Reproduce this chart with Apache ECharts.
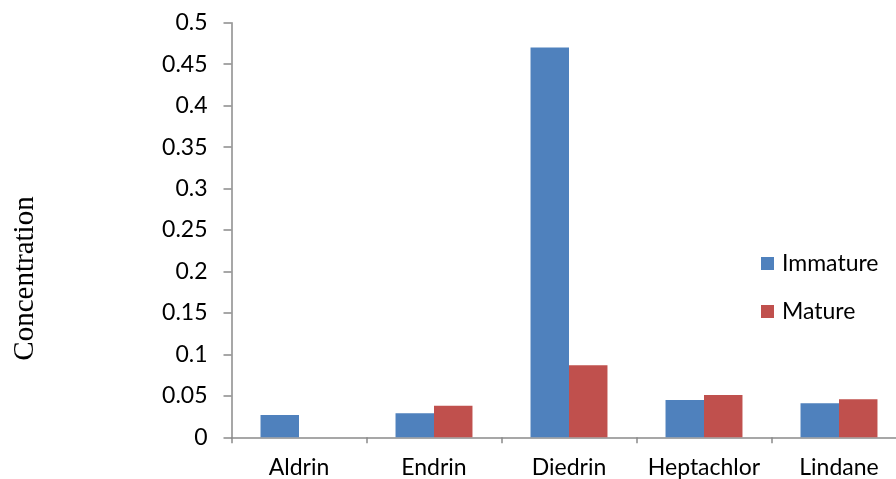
<!DOCTYPE html>
<html>
<head>
<meta charset="utf-8">
<script src="https://cdn.jsdelivr.net/npm/echarts@6/dist/echarts.min.js"></script>
<style>
  html, body { margin: 0; padding: 0; background: #ffffff; }
  #chart { width: 896px; height: 479px; }
</style>
</head>
<body>
<div id="chart"></div>
<script>
// Pesticide residue concentrations by compound and maturity stage
const categories = ['Aldrin', 'Endrin', 'Diedrin', 'Heptachlor', 'Lindane'];
const immature = [0.027, 0.029, 0.47, 0.045, 0.041];
const mature = [0, 0.038, 0.087, 0.051, 0.046];
const seriesNames = ['Immature', 'Mature'];
const yMin = 0;
const yMax = 0.5;
const yStep = 0.05;

const axisGray = '#8a8a8a';
const labelFont = 'Lato, "Open Sans", sans-serif';

const chart = echarts.init(document.getElementById('chart'), null, { renderer: 'canvas' });

chart.setOption({
  animation: false,
  backgroundColor: '#ffffff',
  // plot area runs past the right edge of the canvas
  grid: {
    left: 231.5, top: 22.7, width: 675, height: 414.6,
    containLabel: false, outerBoundsMode: 'none'
  },
  legend: {
    orient: 'vertical',
    left: 761,
    top: 252,
    padding: 0,
    itemWidth: 13,
    itemHeight: 13,
    itemGap: 25,
    icon: 'rect',
    textStyle: { fontFamily: labelFont, fontSize: 23, color: '#000', lineHeight: 20, padding: [0, 0, 0, 3] },
    data: seriesNames
  },
  xAxis: {
    type: 'category',
    data: categories,
    axisLine: { lineStyle: { color: axisGray, width: 1.5 } },
    axisTick: { show: true, length: 6, alignWithLabel: false, lineStyle: { color: axisGray, width: 1.5 } },
    axisLabel: { interval: 0, fontFamily: labelFont, fontSize: 23, color: '#000', margin: 19 },
    splitLine: { show: false }
  },
  yAxis: {
    type: 'value',
    min: yMin,
    max: yMax,
    interval: yStep,
    axisLine: { show: true, lineStyle: { color: axisGray, width: 1.5 } },
    axisTick: { show: true, length: 8, lineStyle: { color: axisGray, width: 1.5 } },
    axisLabel: {
      fontFamily: labelFont, fontSize: 23, color: '#000', margin: 24,
      formatter: v => String(parseFloat(v.toFixed(2)))
    },
    splitLine: { show: false }
  },
  graphic: [{
    type: 'text',
    x: 25,
    y: 278.5,
    rotation: Math.PI / 2,
    style: {
      text: 'Concentration',
      font: '29px "Liberation Serif", "Times New Roman", serif',
      fill: '#000',
      textAlign: 'center',
      textVerticalAlign: 'middle'
    }
  }],
  series: [
    {
      name: seriesNames[0],
      type: 'bar',
      data: immature,
      barGap: '0%',
      barCategoryGap: '43%',
      itemStyle: { color: '#4f81bd' }
    },
    {
      name: seriesNames[1],
      type: 'bar',
      data: mature,
      barGap: '0%',
      barCategoryGap: '43%',
      itemStyle: { color: '#c0504d' }
    }
  ]
});
</script>
</body>
</html>
